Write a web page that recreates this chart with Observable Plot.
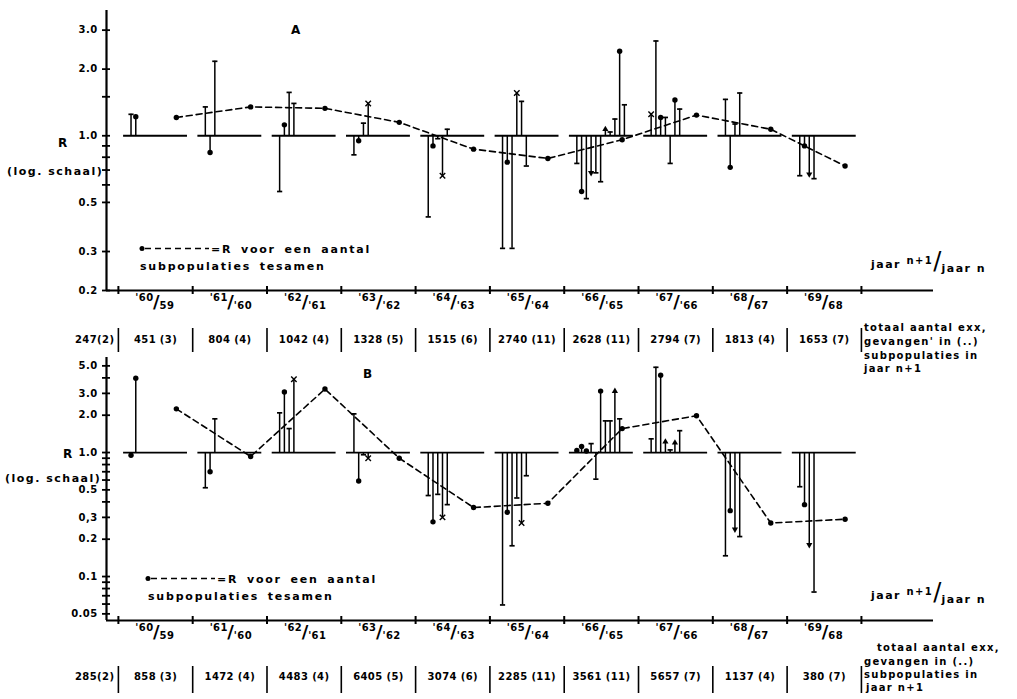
<!DOCTYPE html>
<html><head><meta charset="utf-8">
<script src="https://cdn.jsdelivr.net/npm/d3@7"></script>
<script src="https://cdn.jsdelivr.net/npm/@observablehq/plot@0.6"></script>
<style>
body{margin:0;background:#fff;}
#wrap{position:relative;width:1017px;height:699px;overflow:hidden;font-family:"DejaVu Sans",sans-serif;font-weight:bold;color:#000;background:#fff;}
#wrap > svg{position:absolute;left:0;}
.lbl{position:absolute;white-space:nowrap;line-height:1;transform:translateY(-50%);}
</style></head><body><div id="wrap"></div>
<script>
// ---------- data ----------
const numLabels = ["'60","'61","'62","'63","'64","'65","'66","'67","'68","'69"];
const denLabels = ["59","'60","'61","'62","'63","'64","'65","'66","67","68"];

const countsA = ["247(2)","451 (3)","804 (4)","1042 (4)","1328 (5)","1515 (6)","2740 (11)","2628 (11)","2794 (7)","1813 (4)","1653 (7)"];
const countsB = ["285(2)","858 (3)","1472 (4)","4483 (4)","6405 (5)","3074 (6)","2285 (11)","3561 (11)","5657 (7)","1137 (4)","380 (7)"];

// R per subpopulation: [value, end marker]
const stemsA = [
  [[1.25,"bar"],[1.22,"dot"]],
  [[1.35,"bar"],[0.84,"dot"],[2.17,"bar"]],
  [[0.56,"bar"],[1.12,"dot"],[1.57,"bar"],[1.40,"bar"]],
  [[0.82,"bar"],[0.95,"dot"],[1.14,"bar"],[1.40,"cross"]],
  [[0.43,"bar"],[0.90,"dot"],[0.97,"bar"],[0.66,"cross"],[1.07,"bar"]],
  [[0.31,"bar"],[0.76,"dot"],[0.31,"bar"],[1.56,"cross"],[1.43,"bar"],[0.73,"bar"]],
  [[0.75,"bar"],[0.56,"dot"],[0.52,"bar"],[0.68,"arrow"],[0.68,"bar"],[0.62,"bar"],[1.07,"arrow"],[1.04,"bar"],[1.19,"bar"],[2.41,"dot"],[1.38,"bar"]],
  [[1.25,"cross"],[2.68,"bar"],[1.21,"dot"],[1.21,"bar"],[0.75,"bar"],[1.45,"dot"],[1.32,"bar"]],
  [[1.46,"bar"],[0.72,"dot"],[1.13,"bar"],[1.56,"bar"]],
  [[0.66,"bar"],[0.90,"dot"],[0.67,"arrow"],[0.64,"bar"]]
];
const stemsB = [
  [[0.95,"dot"],[3.98,"dot"]],
  [[0.52,"bar"],[0.70,"dot"],[1.87,"bar"]],
  [[2.09,"bar"],[3.08,"dot"],[1.56,"bar"],[3.9,"cross"]],
  [[2.05,"bar"],[0.59,"dot"],[0.96,"bar"],[0.90,"cross"]],
  [[0.45,"bar"],[0.276,"dot"],[0.46,"bar"],[0.30,"cross"],[0.38,"bar"]],
  [[0.059,"bar"],[0.33,"dot"],[0.177,"bar"],[0.43,"bar"],[0.27,"cross"],[0.65,"bar"]],
  [[1.04,"dot"],[1.12,"dot"],[1.03,"dot"],[1.18,"bar"],[0.61,"bar"],[3.13,"dot"],[1.8,"bar"],[1.8,"bar"],[3.13,"arrow"],[1.87,"bar"]],
  [[1.29,"bar"],[4.87,"bar"],[4.2,"dot"],[1.22,"arrow"],[1.05,"bar"],[1.2,"arrow"],[1.5,"bar"]],
  [[0.147,"bar"],[0.34,"dot"],[0.24,"arrow"],[0.21,"bar"]],
  [[0.53,"bar"],[0.38,"dot"],[0.18,"arrow"],[0.075,"bar"]]
];
// R for all subpopulations together
const totalA = [1.21, 1.35, 1.33, 1.15, 0.87, 0.79, 0.96, 1.24, 1.07, 0.73];
const totalB = [2.25, 0.93, 3.25, 0.90, 0.36, 0.39, 1.56, 1.98, 0.27, 0.29];

const ticksA = [3, 2, 1, 0.5, 0.3, 0.2];
const tickLabelsA = ["3.0","2.0","1.0","0.5","0.3","0.2"];
const minorA = [1.5, 0.9, 0.8, 0.7, 0.6];
const ticksB = [5, 3, 2, 1, 0.5, 0.3, 0.2, 0.1, 0.05];
const tickLabelsB = ["5.0","3.0","2.0","1.0","0.5","0,3","0.2","0.1","0.05"];
const minorB = [4, 0.9, 0.8, 0.7, 0.6, 0.4, 0.09, 0.08, 0.07, 0.06];

// ---------- drawing ----------
const xMin = -0.16, xMax = 10.97;
const W = 1017, ML = 106, MR = 84;
const barSymbol = {draw(ctx, size){ const r = Math.sqrt(size / Math.PI); ctx.moveTo(-r, 0); ctx.lineTo(r, 0); }};

function panel(cfg) {
  const {stems, totals, counts, yDomain, height, marginTop, marginBottom, ticks, tickLabels, minor, cntDy, sepTop, sepBottom} = cfg;
  const groups = d3.range(stems.length);
  const bounds = d3.range(stems.length + 1);
  const stemData = stems.flatMap((grp, g) => grp.map(([v, m], k) => ({g, k, v, m, x: g + 0.17 + k * 0.064})));
  const byM = m => stemData.filter(d => d.m === m);
  const totData = totals.map((v, g) => ({g, v}));
  const frameH = height - marginTop - marginBottom;
  const frameW = W - ML - MR;
  const yMin = yDomain[0];
  return Plot.plot({
    width: W, height, marginLeft: ML, marginRight: MR, marginTop, marginBottom,
    x: {domain: [xMin, xMax], axis: null},
    y: {type: "log", domain: yDomain},
    style: {fontFamily: "DejaVu Sans", fontWeight: "bold", fontSize: "10px", color: "black", background: "transparent", letterSpacing: "0.4px", overflow: "visible"},
    marks: [
      Plot.ruleX([xMin], {strokeWidth: 2.2}),
      Plot.ruleY([yMin], {strokeWidth: 2}),
      // y ticks crossing the axis
      Plot.tickY(ticks.concat(minor), {y: d => d, insetLeft: -4, insetRight: frameW - 4, strokeWidth: 1.8}),
      Plot.axisY({ticks, tickSize: 0, tickPadding: 9, tickFormat: d => tickLabels[ticks.indexOf(d)], label: null}),
      // x ticks crossing the axis
      Plot.tickX(bounds, {x: d => d, insetTop: frameH - 4, insetBottom: -4, strokeWidth: 2}),
      Plot.ruleY(groups, {y: () => 1, x1: g => g + 0.07, x2: g => g + 0.93, strokeWidth: 1.8}),
      Plot.ruleX(stemData, {x: "x", y1: () => 1, y2: "v", strokeWidth: 1.5}),
      Plot.dot(byM("dot"), {x: "x", y: "v", r: 2.7, fill: "black"}),
      Plot.dot(byM("bar"), {x: "x", y: "v", r: 2.6, symbol: barSymbol, fill: "none", stroke: "black", strokeWidth: 1.7}),
      Plot.dot(byM("arrow"), {x: "x", y: "v", r: 2.3, symbol: "triangle", rotate: d => d.v < 1 ? 180 : 0, fill: "black"}),
      Plot.dot(byM("cross"), {x: "x", y: "v", r: 2.6, symbol: "times", fill: "none", stroke: "black", strokeWidth: 1.4}),
      Plot.line(totData, {x: d => d.g + 0.78, y: "v", strokeDasharray: "6,4", strokeWidth: 1.6}),
      Plot.dot(totData, {x: d => d.g + 0.78, y: "v", r: 2.7, fill: "black"}),
      // category labels  'n+1 / n
      Plot.text(numLabels, {x: (d, i) => i + 0.5, y: () => yMin, text: d => d, textAnchor: "end", dx: -2, dy: 7, fontSize: 10}),
      Plot.text(numLabels, {x: (d, i) => i + 0.5, y: () => yMin, text: () => "/", dx: 1, dy: 12, fontSize: 18, fontWeight: "bold"}),
      Plot.text(denLabels, {x: (d, i) => i + 0.5, y: () => yMin, text: d => d, textAnchor: "start", dx: 4, dy: 15, fontSize: 10}),
      // totals row
      Plot.tickX(bounds, {x: d => d, insetTop: frameH + sepTop, insetBottom: -sepBottom, strokeWidth: 1.6}),
      Plot.text(counts.slice(0, 1), {x: () => 0, y: () => yMin, text: d => d, textAnchor: "end", dx: -4, dy: cntDy}),
      Plot.text(counts.slice(1), {x: (d, i) => i + 0.5, y: () => yMin, text: d => d, dy: cntDy})
    ]
  });
}

const wrap = document.getElementById("wrap");
const svgA = panel({stems: stemsA, totals: totalA, counts: countsA, yDomain: [0.2, 3.68], height: 350, marginTop: 10, marginBottom: 60,
  ticks: ticksA, tickLabels: tickLabelsA, minor: minorA, cntDy: 49, sepTop: 38, sepBottom: 62});
svgA.style.top = "0px";
wrap.appendChild(svgA);
const svgB = panel({stems: stemsB, totals: totalB, counts: countsB, yDomain: [0.0442, 5.84], height: 349, marginTop: 7, marginBottom: 79,
  ticks: ticksB, tickLabels: tickLabelsB, minor: minorB, cntDy: 56, sepTop: 46, sepBottom: 73});
svgB.style.top = "350px";
wrap.appendChild(svgB);

function label(html, left, cy, style) {
  const d = document.createElement("div");
  d.className = "lbl";
  d.innerHTML = html;
  d.style.cssText += `left:${left}px;top:${cy}px;` + (style || "");
  wrap.appendChild(d);
}
const legendSym = `<svg width="72" height="8" style="vertical-align:middle;position:relative;top:-1px"><circle cx="3" cy="4" r="2.5" fill="black"/><line x1="6" y1="4" x2="70" y2="4" stroke="black" stroke-width="1.7" stroke-dasharray="6,4"/></svg>`;
const legStyle = "font-size:11px;letter-spacing:1.8px;word-spacing:3px;";
const jaar = `jaar <span style="font-size:10px;position:relative;top:-4px">n+1</span><span style="font-size:24px;font-weight:normal;position:relative;top:1px;letter-spacing:0">/</span><span style="position:relative;top:4px">jaar n</span>`;
const rtStyle = "font-size:10px;letter-spacing:1.3px;";

// panel A annotations
label("A", 291, 30, "font-size:12px;");
label("R", 58, 143, "font-size:12px;");
label("(log. schaal)", 7, 171, "font-size:11px;letter-spacing:1.5px;");
label(legendSym + "=R voor een aantal", 139, 249, legStyle);
label("subpopulaties tesamen", 140, 266, legStyle);
label(jaar, 871, 260, "font-size:11px;letter-spacing:1.5px;");
label("totaal aantal exx,", 864, 328, rtStyle);
label("gevangen' in (..)", 864, 342, rtStyle);
label("subpopulaties in", 864, 356, rtStyle);
label("jaar n+1", 864, 369, rtStyle);

// panel B annotations
label("B", 363, 374, "font-size:12px;");
label("R", 63, 454, "font-size:12px;");
label("(log. schaal)", 5, 478, "font-size:11px;letter-spacing:1.5px;");
label(legendSym + "=R voor een aantal", 145, 579, legStyle);
label("subpopulaties tesamen", 148, 596, legStyle);
label(jaar, 871, 591, "font-size:11px;letter-spacing:1.5px;");
label("totaal aantal exx,", 877, 648, rtStyle);
label("gevangen in (..)", 864, 662, rtStyle);
label("subpopulaties in", 864, 675, rtStyle);
label("jaar n+1", 866, 688, rtStyle);
</script></body></html>
